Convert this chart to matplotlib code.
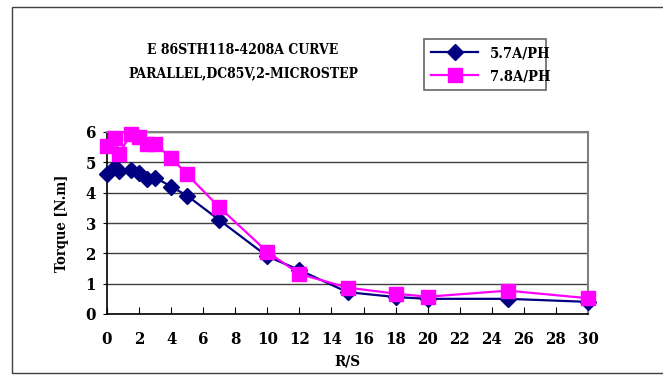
import matplotlib
matplotlib.use("Agg")
import matplotlib.pyplot as plt
from matplotlib.patches import Rectangle

speed = [0, 0.5, 0.75, 1.5, 2, 2.5, 3, 4, 5, 7, 10, 12, 15, 18, 20, 25, 30]
torque_57 = [4.6, 4.85, 4.7, 4.75, 4.65, 4.45, 4.5, 4.2, 3.9, 3.1, 1.9, 1.45, 0.72, 0.56, 0.5, 0.5, 0.4]
torque_78 = [5.55, 5.8, 5.27, 5.95, 5.82, 5.62, 5.6, 5.15, 4.6, 3.52, 2.05, 1.32, 0.87, 0.67, 0.57, 0.77, 0.52]
series_labels = ["5.7A/PH", "7.8A/PH"]
title_lines = ["E 86STH118-4208A CURVE", "PARALLEL,DC85V,2-MICROSTEP"]
x_ticks = list(range(0, 31, 2))
y_ticks = list(range(0, 7))

FONT = dict(family="DejaVu Serif", fontstretch="condensed", fontweight="bold")

fig = plt.figure(figsize=(6.63, 3.77), dpi=100)
fig.patches.append(Rectangle((12/663, 4/377), 1.2, 366/377, transform=fig.transFigure,
                             fill=False, edgecolor="#404040", linewidth=1.0))

ax = fig.add_axes([107/663, 63/377, 481/663, 182/377])
ax.plot(speed, torque_57, color="#000080", lw=1.6, marker="D", ms=8.5,
        label=series_labels[0], zorder=3, clip_on=False)
ax.plot(speed, torque_78, color="#FF00FF", lw=1.6, marker="s", ms=10,
        label=series_labels[1], zorder=4, clip_on=False)

ax.set_xlim(0, 30)
ax.set_ylim(0, 6)
ax.set_xticks(x_ticks)
ax.set_yticks(y_ticks)
ax.grid(axis="y", color="#404040", lw=1.0)
ax.set_axisbelow(True)
for s in ["top", "right"]:
    ax.spines[s].set_color("#808080")
    ax.spines[s].set_linewidth(1.5)
for s in ["left", "bottom"]:
    ax.spines[s].set_color("black")
    ax.spines[s].set_linewidth(1.2)
ax.tick_params(axis="x", direction="in", length=5, pad=12)
ax.tick_params(axis="y", direction="out", length=3, pad=5)
for lab in ax.get_xticklabels() + ax.get_yticklabels():
    lab.set_fontsize(12)
    lab.set_fontfamily("DejaVu Serif")
    lab.set_fontstretch("condensed")
    lab.set_fontweight("bold")

ax.set_xlabel("R/S", fontsize=11, labelpad=5, **FONT)
ax.set_ylabel("Torque [N.m]", fontsize=10.5, labelpad=12, **FONT)

fig.text(243/663, 1 - 50/377, title_lines[0], ha="center", va="center", fontsize=10, **FONT)
fig.text(243/663, 1 - 73/377, title_lines[1], ha="center", va="center", fontsize=10, **FONT)

leg = ax.legend(loc="upper left", bbox_to_anchor=(424/663, 1 - 91/377, 122/663, 52/377),
                bbox_transform=fig.transFigure, mode="expand", frameon=True, fancybox=False,
                edgecolor="#404040", handlelength=3.2, borderaxespad=0, labelspacing=0.6,
                borderpad=0.5,
                prop=dict(family="DejaVu Serif", stretch="condensed", weight="bold", size=10.5))
leg.get_frame().set_linewidth(1.2)

fig.savefig("out.png", dpi=100)
